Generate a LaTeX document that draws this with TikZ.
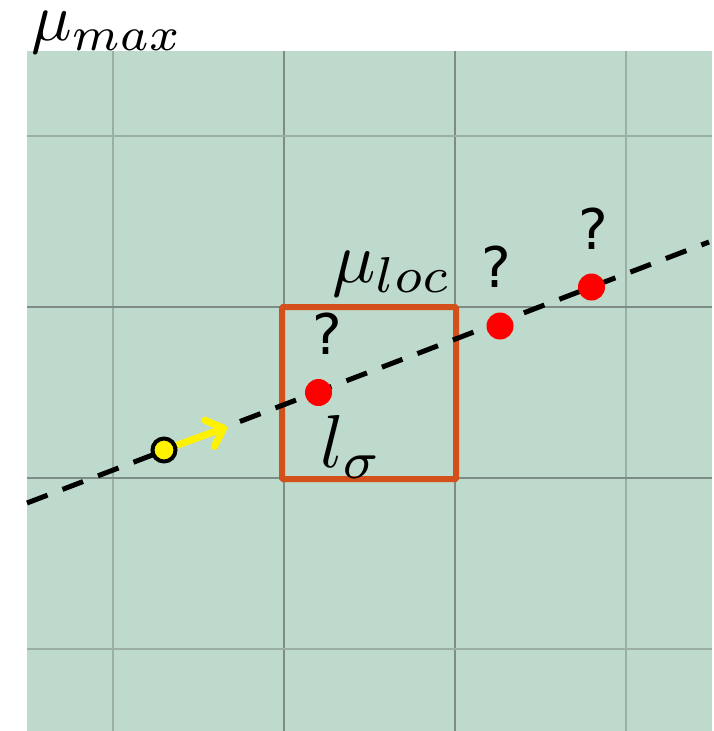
\documentclass[tikz,border=0pt]{standalone}
\usepackage{graphicx}
\usepackage{fontspec}
\newfontfamily\qfont{DejaVu Sans}
\usetikzlibrary{arrows.meta}
\definecolor{bg}{RGB}{190,218,204}
\definecolor{gridA}{RGB}{155,175,165}
\definecolor{gridB}{RGB}{125,140,133}
\definecolor{boxc}{RGB}{212,80,26}
\newcommand{\biglbl}[2]{\scalebox{#1}{$#2$}}
\tikzset{
  mathlbl/.style={inner sep=0pt, anchor=base west},
  qmark/.style={inner sep=0pt, font=\qfont\fontsize{56}{56}\selectfont},
  reddot/.style={circle, fill=red, inner sep=0pt, minimum size=27pt},
  yeldot/.style={circle, fill=yellow, draw=black, line width=4pt, inner sep=0pt, minimum size=23pt},
  gridlite/.style={gridA, line width=2pt},
  griddark/.style={gridB, line width=2pt},
  pathline/.style={black, line width=5pt, dash pattern=on 22pt off 16pt},
  cellbox/.style={draw=boxc, line width=6pt, rounded corners=1pt, inner sep=0pt, minimum width=174pt, minimum height=172pt},
  dirarrow/.style={yellow, line width=7pt, -{Straight Barb[length=15pt,width=28pt,round]}}
}
\begin{document}
\begin{tikzpicture}[x=1pt,y=-1pt]
\useasboundingbox (0,0) rectangle (713,731);
\fill[bg] (27,51) rectangle (712,731);
% grid
\foreach \x in {113,626} \draw[gridlite] (\x,51) -- (\x,731);
\foreach \x in {284,455} \draw[griddark] (\x,51) -- (\x,731);
\foreach \y in {136,649} \draw[gridlite] (27,\y) -- (712,\y);
\foreach \y in {307,478} \draw[griddark] (27,\y) -- (712,\y);
% local cell
\node[cellbox] (cell) at (369,393) {};
% path
\coordinate (pa) at (27,503);
\coordinate (pb) at (709,242);
\draw[pathline] (pa) -- (pb);
% points
\node[yeldot] (start) at (164,450) {};
\coordinate (dir) at (227,427);
\draw[dirarrow] (start) -- (dir);
\node[reddot] (p1) at (318.5,392.5) {};
\node[reddot] (p2) at (500,326) {};
\node[reddot] (p3) at (591.5,287) {};
\node[qmark] (q1) at (327,334) {?};
\node[qmark] (q2) at (496.5,266.5) {?};
\node[qmark] (q3) at (593.5,229) {?};
% labels
\node[mathlbl] (mumax) at (31,40) {\biglbl{6.75}{\mu_{max}}};
\node[mathlbl] (muloc) at (332,282) {\biglbl{7.2}{\mu_{loc}}};
\node[mathlbl] (lsig) at (320,467) {\biglbl{7.5}{l_{\sigma}}};
\end{tikzpicture}
\end{document}
